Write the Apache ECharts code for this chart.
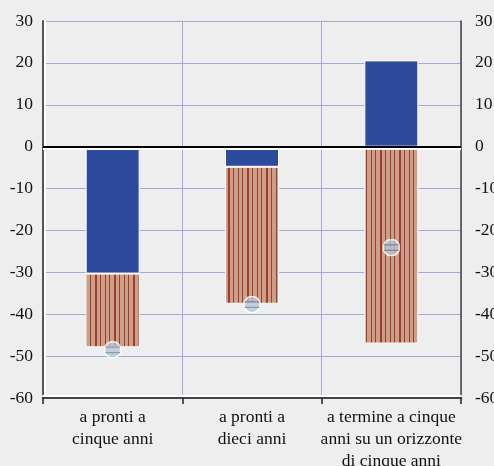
<!DOCTYPE html>
<html>
<head>
<meta charset="utf-8">
<script src="https://cdn.jsdelivr.net/npm/echarts@6/dist/echarts.min.js"></script>
<style>
html,body{margin:0;padding:0;background:#eeeeee;}
#c{width:494px;height:466px;}
</style>
</head>
<body>
<div id="c"></div>
<script>
const categories = ['a pronti a\ncinque anni', 'a pronti a\ndieci anni', 'a termine a cinque\nanni su un orizzonte\ndi cinque anni'];
const blueValues = [-30.3, -4.8, 20.6];
const stripedValues = [-17.6, -32.7, -47.0];
const markerValues = [-48.5, -37.7, -24.1];
const yMin = -60, yMax = 30, yStep = 10;

// striped pattern
const pc = document.createElement('canvas');
pc.width = 19; pc.height = 8;
const g = pc.getContext('2d');
g.fillStyle = '#c9a08a';
g.fillRect(0, 0, 19, 8);
g.fillStyle = '#a6392a';
g.fillRect(0, 0, 2, 8);
g.fillRect(5, 0, 1, 8);
g.fillRect(10, 0, 1, 8);
g.fillRect(14, 0, 1, 8);

const svg = "<svg xmlns='http://www.w3.org/2000/svg' width='32' height='32'><circle cx='16' cy='16' r='14.5' fill='#b8c7d6' stroke='#ffffff' stroke-width='3'/><line x1='3' y1='11' x2='29' y2='11' stroke='#6a8aa1' stroke-width='2.2'/><line x1='3' y1='21' x2='29' y2='21' stroke='#6a8aa1' stroke-width='2.2'/></svg>";
const markerSymbol = 'image://data:image/svg+xml;charset=utf-8,' + encodeURIComponent(svg);

const font = 'Liberation Serif';
const txt = '#111111';
const chart = echarts.init(document.getElementById('c'));
chart.setOption({
  backgroundColor: '#eeeeee',
  animation: false,
  grid: {left: 43, right: 33, top: 21, bottom: 68, containLabel: false, outerBoundsMode: 'none'},
  xAxis: {
    type: 'category',
    data: categories,
    boundaryGap: true,
    axisLine: {show: true, onZero: false, lineStyle: {color: '#444444', width: 2, shadowColor: '#ffffff', shadowOffsetY: -2, shadowBlur: 0}},
    axisTick: {show: true, length: 6, lineStyle: {color: '#222222', width: 1.5}},
    axisLabel: {fontFamily: font, fontSize: 17.5, color: txt, lineHeight: 22, margin: 8, interval: 0},
    splitLine: {show: true, interval: 0, lineStyle: {color: '#a4aad4', width: 1}}
  },
  yAxis: [{
    type: 'value', min: yMin, max: yMax, interval: yStep, position: 'left',
    axisLine: {show: true, lineStyle: {color: '#555555', width: 2, shadowColor: '#ffffff', shadowOffsetX: 2, shadowBlur: 0}},
    axisTick: {show: false},
    axisLabel: {fontFamily: font, fontSize: 17.5, color: txt, margin: 10},
    splitLine: {show: true, lineStyle: {color: '#a4aad4', width: 1}}
  }, {
    type: 'value', min: yMin, max: yMax, interval: yStep, position: 'right',
    axisLine: {show: true, lineStyle: {color: '#444444', width: 1.5}},
    axisTick: {show: false},
    axisLabel: {fontFamily: font, fontSize: 17.5, color: txt, margin: 14},
    splitLine: {show: false}
  }],
  series: [{
    type: 'bar', stack: 's', data: blueValues, barWidth: 54,
    itemStyle: {color: '#2e4a9c', borderColor: '#ffffff', borderWidth: 1},
    markLine: {
      silent: true, symbol: 'none', label: {show: false},
      lineStyle: {color: '#000000', width: 2, type: 'solid', shadowColor: '#ffffff', shadowOffsetY: 2, shadowBlur: 0},
      data: [{yAxis: 0}]
    }
  }, {
    type: 'bar', stack: 's', data: stripedValues, barWidth: 54,
    itemStyle: {color: {image: pc, repeat: 'repeat'}, borderColor: '#ffffff', borderWidth: 1}
  }, {
    type: 'scatter', data: markerValues, symbol: markerSymbol, symbolSize: 18, z: 5
  }]
});
</script>
</body>
</html>
